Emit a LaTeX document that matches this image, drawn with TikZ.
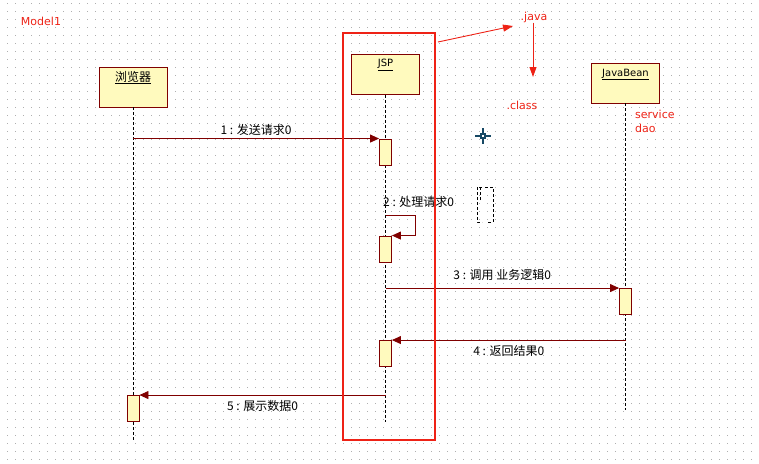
\documentclass[tikz,border=0pt]{standalone}
\usepackage{fontspec}
\setmainfont{DejaVu Sans}
\newfontfamily\cjk{Noto Sans CJK SC}
\usetikzlibrary{arrows.meta}
\definecolor{umlred}{RGB}{128,0,0}
\definecolor{umlfill}{RGB}{255,250,190}
\definecolor{notered}{RGB}{238,34,22}
\definecolor{dotgray}{RGB}{175,175,175}
\definecolor{cursorblue}{RGB}{22,72,100}

\begin{document}
\begin{tikzpicture}[x=1pt, y=-1pt, font=\fontsize{10}{12}\selectfont,
  dots/.style={dotgray, line width=1pt, dash pattern=on 1pt off 7pt, dash phase=1pt},
  obj/.style={draw=umlred, fill=umlfill, line width=0.9pt, minimum width=68pt, minimum height=40pt, inner sep=0pt},
  act/.style={draw=umlred, fill=umlfill, line width=0.9pt, minimum width=12pt, minimum height=26pt, inner sep=0pt},
  life/.style={line width=0.9pt, dash pattern=on 3pt off 2pt},
  msg/.style={umlred, line width=0.9pt, -{Triangle[length=9pt, width=8pt]}},
  lbl/.style={text=black, font=\cjk\fontsize{12}{14}\selectfont, inner sep=0pt},
  note/.style={text=notered, inner sep=0pt, font=\fontsize{11}{14}\selectfont},
  notearrow/.style={notered, line width=0.9pt, -{Triangle[length=10pt, width=7pt]}}]
  \useasboundingbox (0,0) rectangle (759,463);

  \foreach \k in {0,...,57}
    \draw[dots] (0,8*\k+3.5) -- (759,8*\k+3.5);

  \node[obj] (b) at (133,87) {};
  \node[obj] (j) at (385.5,74.5) {};
  \node[obj] (jb) at (625.5,83) {};
  \node[inner sep=0pt] (bt) at ([yshift=-11pt]b.north) {\cjk\fontsize{12}{14}\selectfont\underline{浏览器}};
  \node[inner sep=0pt] (jt) at ([yshift=-11pt]j.north) {\underline{JSP}};
  \node[inner sep=0pt] (jbt) at ([yshift=-12pt]jb.north) {\underline{JavaBean}};

  \coordinate (be) at (133,440);
  \coordinate (je) at (385.5,422);
  \coordinate (jbe) at (625.5,410);
  \draw[life] (b) -- (be);
  \draw[life] (j) -- (je);
  \draw[life] (jb) -- (jbe);

  \node[act] (a1) at (385.5,152) {};
  \node[act] (a2) at (385.5,249) {};
  \node[act] (a3) at (625.5,301.5) {};
  \node[act] (a4) at (385.5,353.5) {};
  \node[act] (a5) at (133,408.5) {};

  \draw[msg] (b |- a1.north) -- node[lbl, above=3pt] {1 : 发送请求0} (a1.north west);
  \draw[msg] (j |- 0,215) -- ++(30,0) |- (a2.north east);
  \node[lbl, anchor=west] (l2) at (383,202) {2 : 处理请求0};
  \draw[msg] (j |- a3.north) -- node[lbl, above=7pt] {3 : 调用 业务逻辑0} (a3.north west);
  \draw[msg] (jb |- a4.north) -- node[lbl, below=5pt] {4 : 返回结果0} (a4.north east);
  \draw[msg] (j |- a5.north) -- node[lbl, below=5pt] {5 : 展示数据0} (a5.north east);

  \draw[notered, line width=2.5pt] (343,33) rectangle (435,440);
  \node[note] (m) at (41,21) {Model1};
  \node[note] (java) at (534,17) {.java};
  \node[note] (cls) at (522,105) {.class};
  \node[note, anchor=north west, align=left] (sd) at (635,110) {service\\dao};
  \coordinate (jsp) at (438,42);
  \coordinate (jv) at (513,26);
  \coordinate (cl) at (533,77);
  \draw[notearrow] (jsp) -- (jv);
  \draw[notearrow] (java.south -| cl) -- (cl);

  \draw[cursorblue, line width=1.3pt] (475,136) -- (491,136) (483,128) -- (483,144);
  \draw[cursorblue, line width=1.2pt, fill=white] (481,134) rectangle (485,138);
  \draw[line width=1pt, dash pattern=on 3pt off 2pt] (482,187) -- (477,187) -- (477,222) -- (482,222);
  \draw[line width=1pt, dash pattern=on 3pt off 2pt] (480,200) -- (480,187) (485,187) -- (493,187) -- (493,222) -- (488,222);
\end{tikzpicture}
\end{document}
